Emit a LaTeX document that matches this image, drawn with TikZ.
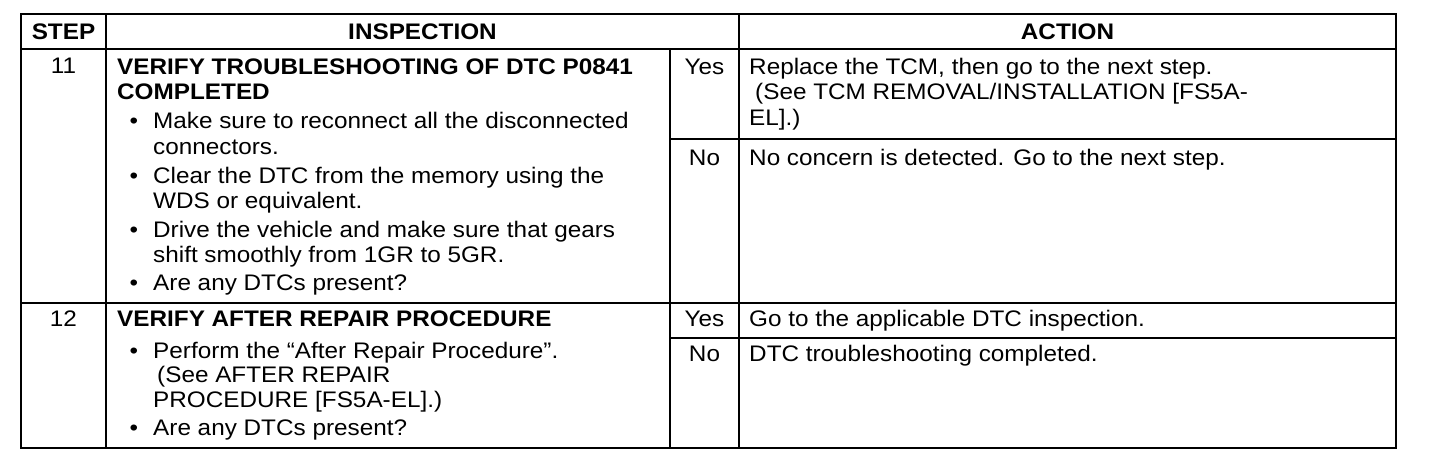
\documentclass[tikz,border=0pt]{standalone}
\usepackage{fontspec}
\setmainfont[FakeStretch=1.08]{Liberation Sans}
\begin{document}
\begin{tikzpicture}[x=1pt,y=-1pt,
  grid/.style={line width=1.8pt,black},
  txt/.style={anchor=base west,inner sep=0pt,font=\fontsize{22.5}{25}\selectfont},
  btxt/.style={txt,font=\fontsize{22.5}{25}\selectfont\bfseries},
  ctr/.style={anchor=base,inner sep=0pt,font=\fontsize{22.5}{25}\selectfont},
  bctr/.style={ctr,font=\fontsize{22.5}{25}\selectfont\bfseries},
  bul/.style={anchor=base,inner sep=0pt,font=\fontsize{22.5}{25}\selectfont}]
\useasboundingbox (0,0) rectangle (1456,474);
\fill[white] (0,0) rectangle (1456,474);
% grid
\draw[grid] (21,14) rectangle (1396,448);
\draw[grid] (106,14) -- (106,448);
\draw[grid] (739,14) -- (739,448);
\draw[grid] (670,49) -- (670,448);
\draw[grid] (21,49) -- (1396,49);
\draw[grid] (21,303) -- (1396,303);
\draw[grid] (670,139) -- (1396,139);
\draw[grid] (670,338) -- (1396,338);
% header
\node[bctr] (hstep) at (63.5,39) {STEP};
\node[bctr] (hinsp) at (422.5,39) {INSPECTION};
\node[bctr] (hact) at (1067.5,39) {ACTION};
% step 11
\node[ctr] (s11) at (63.5,73) {11};
\node[btxt] (i11a) at (117,74) {VERIFY TROUBLESHOOTING OF DTC P0841};
\node[btxt] (i11b) at (117,99) {COMPLETED};
\node[bul] (b11a) at (134,128) {\textbullet};
\node[txt] (i11c) at (153,128) {Make sure to reconnect all the disconnected};
\node[txt] (i11d) at (153,154) {connectors.};
\node[bul] (b11b) at (134,183) {\textbullet};
\node[txt] (i11e) at (153,183) {Clear the DTC from the memory using the};
\node[txt] (i11f) at (153,208) {WDS or equivalent.};
\node[bul] (b11c) at (134,237) {\textbullet};
\node[txt] (i11g) at (153,237) {Drive the vehicle and make sure that gears};
\node[txt] (i11h) at (153,262) {shift smoothly from 1GR to 5GR.};
\node[bul] (b11d) at (134,290) {\textbullet};
\node[txt] (i11i) at (153,290) {Are any DTCs present?};
\node[ctr] (y11) at (704.5,74) {Yes};
\node[ctr] (n11) at (704.5,165) {No};
\node[txt] (a11a) at (749,74) {Replace the TCM, then go to the next step.};
\node[txt] (a11b) at (755,99) {(See TCM REMOVAL/INSTALLATION [FS5A-};
\node[txt] (a11c) at (749,125) {EL].)};
\node[txt] (a11d) at (749,165) {No concern is detected. Go to the next step.};
% step 12
\node[ctr] (s12) at (63.5,326) {12};
\node[btxt] (i12a) at (117,326) {VERIFY AFTER REPAIR PROCEDURE};
\node[bul] (b12a) at (134,358) {\textbullet};
\node[txt] (i12b) at (153,358) {Perform the “After Repair Procedure”.};
\node[txt] (i12c) at (157,382) {(See AFTER REPAIR};
\node[txt] (i12d) at (153,407) {PROCEDURE [FS5A-EL].)};
\node[bul] (b12b) at (134,435) {\textbullet};
\node[txt] (i12e) at (153,435) {Are any DTCs present?};
\node[ctr] (y12) at (704.5,326) {Yes};
\node[ctr] (n12) at (704.5,361) {No};
\node[txt] (a12a) at (749,326) {Go to the applicable DTC inspection.};
\node[txt] (a12b) at (749,361) {DTC troubleshooting completed.};
\end{tikzpicture}
\end{document}
